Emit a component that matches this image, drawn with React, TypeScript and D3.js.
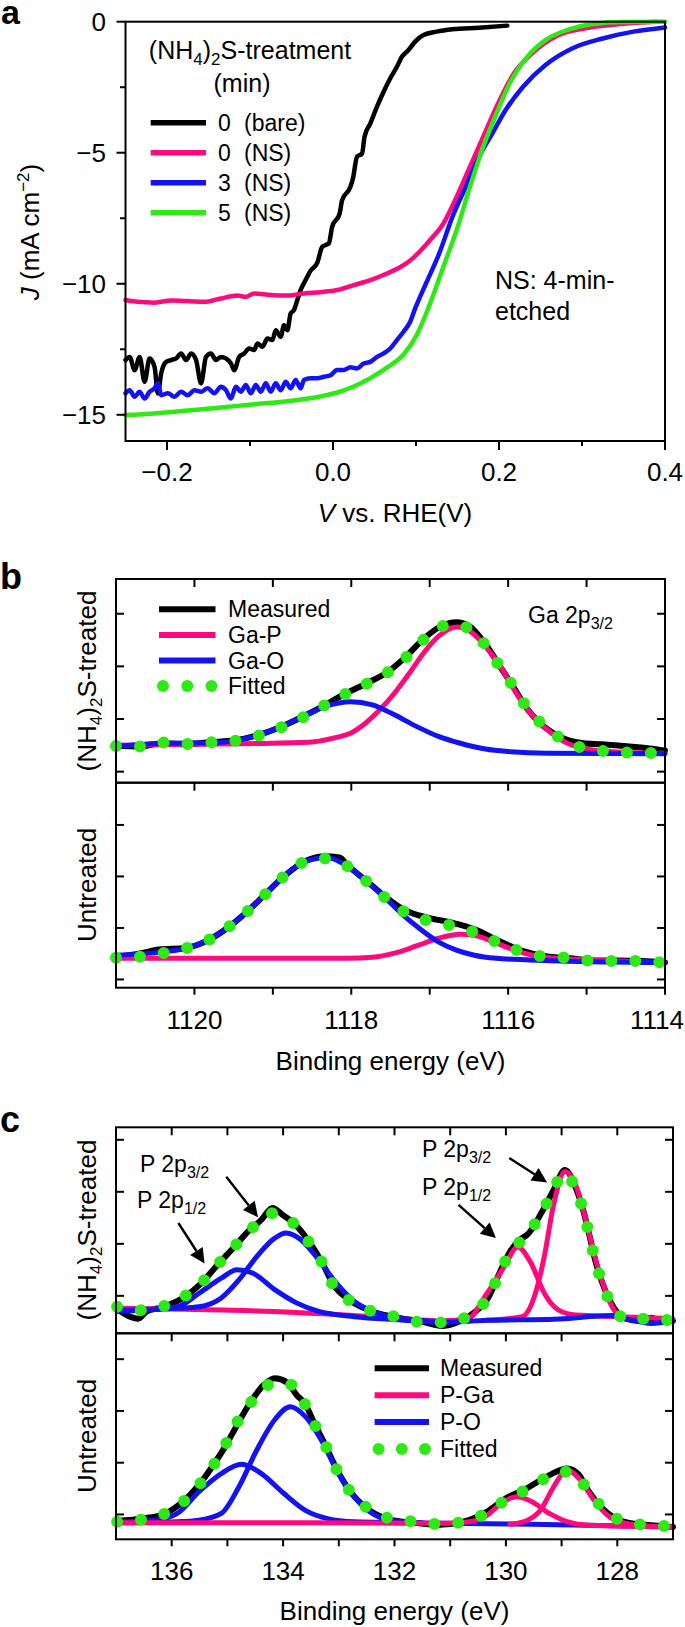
import React from 'react';
import * as d3 from 'd3';

const FONT = '"Liberation Sans", Arial, Helvetica, sans-serif';
const PINK = '#ff0a7c';
const BLUE = '#1212f2';
const GREEN = '#2eea14';

type P = [number, number];

// ---------- Panel a : J–V curves ----------
const aXTicks = [-0.2, 0, 0.2, 0.4];
const aXTickLabels = ['\u22120.2', '0.0', '0.2', '0.4'];
const aXMinor = [-0.1, 0.1, 0.3];
const aYTicks = [0, -5, -10, -15];
const aYTickLabels = ['0', '\u22125', '\u221210', '\u221215'];
const aYMinor = [-2.5, -7.5, -12.5];

const aBare: P[] = [
  [-0.25, -12.91], [-0.245, -12.79], [-0.239, -13.3], [-0.233, -12.79], [-0.227, -13.74], [-0.221, -12.85],
  [-0.215, -13.17], [-0.211, -14.19], [-0.207, -13.42], [-0.201, -12.98], [-0.195, -12.91], [-0.189, -12.85],
  [-0.183, -12.66], [-0.177, -12.91], [-0.171, -12.66], [-0.165, -12.91], [-0.159, -13.8], [-0.153, -12.79],
  [-0.147, -12.66], [-0.141, -12.91], [-0.135, -12.79], [-0.129, -12.85], [-0.123, -13.04], [-0.119, -13.3],
  [-0.113, -12.79], [-0.107, -12.66], [-0.101, -12.47], [-0.095, -12.53], [-0.091, -12.28], [-0.085, -12.4],
  [-0.079, -12.09], [-0.073, -12.15], [-0.069, -11.77], [-0.063, -12.02], [-0.059, -11.58], [-0.055, -11.77],
  [-0.051, -11.13], [-0.047, -11.0], [-0.043, -10.62], [-0.039, -10.24], [-0.033, -9.86], [-0.027, -9.5],
  [-0.019, -9.2], [-0.013, -8.59], [-0.005, -8.46], [-0.001, -7.82], [0.008, -7.32], [0.011, -6.81],
  [0.021, -6.3], [0.024, -5.98], [0.029, -5.15], [0.035, -5.03], [0.038, -4.39], [0.045, -3.88],
  [0.053, -3.24], [0.06, -2.74], [0.069, -2.16], [0.077, -1.72], [0.083, -1.34], [0.091, -1.08],
  [0.099, -0.76], [0.109, -0.51], [0.125, -0.38], [0.144, -0.29], [0.176, -0.23], [0.21, -0.15],
];
const aNS0: P[] = [
  [-0.25, -10.62], [-0.235, -10.69], [-0.215, -10.72], [-0.195, -10.64], [-0.175, -10.66], [-0.155, -10.69],
  [-0.135, -10.56], [-0.115, -10.45], [-0.105, -10.5], [-0.095, -10.37], [-0.075, -10.43], [-0.055, -10.45],
  [-0.035, -10.37], [-0.015, -10.32], [0.005, -10.24], [0.025, -10.05], [0.045, -9.86], [0.065, -9.61],
  [0.085, -9.29], [0.096, -9.03], [0.117, -8.33], [0.133, -7.7], [0.149, -6.68], [0.165, -5.53],
  [0.181, -4.39], [0.197, -3.24], [0.218, -1.97], [0.24, -1.21], [0.272, -0.51], [0.304, -0.25],
  [0.346, -0.09], [0.373, -0.03], [0.39, 0.0],
];
const aNS3: P[] = [
  [-0.25, -14.18], [-0.245, -14.06], [-0.239, -14.31], [-0.233, -14.12], [-0.227, -14.38], [-0.221, -14.12],
  [-0.215, -13.99], [-0.211, -13.8], [-0.207, -14.25], [-0.199, -14.18], [-0.191, -14.31], [-0.183, -14.12],
  [-0.175, -14.25], [-0.167, -14.06], [-0.159, -14.12], [-0.151, -13.99], [-0.143, -14.18], [-0.135, -13.93],
  [-0.129, -14.06], [-0.123, -14.38], [-0.117, -13.93], [-0.111, -14.12], [-0.105, -13.86], [-0.099, -14.18],
  [-0.093, -13.86], [-0.087, -14.12], [-0.081, -13.8], [-0.075, -14.12], [-0.069, -13.8], [-0.063, -14.06],
  [-0.057, -13.74], [-0.051, -13.99], [-0.045, -13.67], [-0.039, -13.99], [-0.035, -13.67], [-0.027, -13.61],
  [-0.019, -13.61], [-0.011, -13.55], [-0.003, -13.49], [0.005, -13.29], [0.013, -13.29], [0.021, -13.19],
  [0.029, -13.23], [0.037, -13.04], [0.045, -12.98], [0.053, -12.79], [0.061, -12.66], [0.069, -12.47],
  [0.077, -12.15], [0.085, -11.83], [0.093, -11.45], [0.099, -10.94], [0.105, -10.49], [0.112, -9.99],
  [0.128, -8.84], [0.144, -7.44], [0.16, -6.3], [0.176, -5.15], [0.192, -4.26], [0.208, -3.37],
  [0.229, -2.48], [0.256, -1.65], [0.288, -1.02], [0.325, -0.64], [0.362, -0.38], [0.4, -0.22],
];
const aNS5: P[] = [
  [-0.25, -15.01], [-0.215, -14.95], [-0.175, -14.84], [-0.135, -14.72], [-0.095, -14.6], [-0.055, -14.48],
  [-0.015, -14.3], [0.005, -14.15], [0.025, -13.92], [0.045, -13.6], [0.065, -13.2], [0.085, -12.7],
  [0.101, -11.95], [0.117, -10.75], [0.133, -9.35], [0.149, -7.95], [0.165, -6.3], [0.181, -4.77],
  [0.197, -3.5], [0.213, -2.35], [0.234, -1.34], [0.256, -0.7], [0.282, -0.32], [0.314, -0.09],
  [0.346, -0.01], [0.4, 0.0],
];
const aLegendLabels = [['0', '(bare)'], ['0', '(NS)'], ['3', '(NS)'], ['5', '(NS)']];

// ---------- Panel b : Ga 2p3/2 ----------
const bXTicks = [1120, 1118, 1116, 1114];
const bXMinor = [1119, 1117, 1115];
const yTicksXps = [0, 1, 2, 3];

const bTreatedMeasured: P[] = [
  [1121.0, 0.49], [1120.7, 0.48], [1120.4, 0.54], [1120.1, 0.52], [1119.8, 0.56], [1119.5, 0.59],
  [1119.2, 0.69], [1118.9, 0.85], [1118.6, 1.06], [1118.33, 1.27], [1118.08, 1.48], [1117.8, 1.68],
  [1117.52, 1.91], [1117.3, 2.19], [1117.08, 2.52], [1116.85, 2.77], [1116.66, 2.84], [1116.5, 2.77],
  [1116.27, 2.38], [1116.1, 1.99], [1115.93, 1.6], [1115.77, 1.22], [1115.6, 0.93], [1115.35, 0.67],
  [1115.04, 0.54], [1114.8, 0.52], [1114.57, 0.49], [1114.2, 0.44], [1114.0, 0.4],
];
const bTreatedGaP: P[] = [
  [1121.0, 0.5], [1120.0, 0.52], [1119.0, 0.54], [1118.47, 0.57], [1118.19, 0.65], [1118.01, 0.73],
  [1117.82, 0.92], [1117.64, 1.17], [1117.45, 1.49], [1117.26, 1.87], [1117.08, 2.25], [1116.89, 2.57],
  [1116.66, 2.75], [1116.48, 2.66], [1116.29, 2.38], [1116.1, 2.0], [1115.92, 1.55], [1115.73, 1.14],
  [1115.55, 0.86], [1115.32, 0.6], [1115.04, 0.44], [1114.67, 0.38], [1114.0, 0.35],
];
const bTreatedGaO: P[] = [
  [1121.0, 0.48], [1120.37, 0.54], [1119.77, 0.55], [1119.21, 0.68], [1118.89, 0.86], [1118.61, 1.05],
  [1118.33, 1.24], [1118.01, 1.33], [1117.73, 1.27], [1117.45, 1.08], [1117.17, 0.86], [1116.89, 0.67],
  [1116.61, 0.54], [1116.29, 0.43], [1115.97, 0.38], [1115.5, 0.35], [1114.0, 0.34],
];
const bTreatedFit: P[] = [
  [1121.0, 0.488], [1120.71, 0.476], [1120.4, 0.552], [1120.1, 0.526], [1119.78, 0.558], [1119.47, 0.59],
  [1119.18, 0.685], [1118.89, 0.843], [1118.6, 1.046], [1118.33, 1.268], [1118.08, 1.471], [1117.79, 1.68],
  [1117.52, 1.902], [1117.3, 2.175], [1117.08, 2.505], [1116.76, 2.79], [1116.5, 2.727], [1116.27, 2.359],
  [1116.1, 1.978], [1115.93, 1.604], [1115.77, 1.236], [1115.57, 0.907], [1115.31, 0.615], [1115.0, 0.431],
  [1114.69, 0.38], [1114.38, 0.361], [1114.0, 0.348],
];
const bUntrMeasured: P[] = [
  [1121.0, 0.44], [1120.71, 0.5], [1120.45, 0.58], [1120.12, 0.61], [1119.83, 0.76], [1119.58, 1.0],
  [1119.34, 1.3], [1119.12, 1.62], [1118.89, 1.96], [1118.62, 2.27], [1118.35, 2.39], [1118.15, 2.37],
  [1118.05, 2.22], [1117.81, 1.92], [1117.57, 1.61], [1117.31, 1.34], [1117.0, 1.19], [1116.71, 1.1],
  [1116.42, 0.97], [1116.12, 0.75], [1115.83, 0.56], [1115.52, 0.45], [1115.21, 0.41], [1114.91, 0.37],
  [1114.6, 0.37], [1114.29, 0.36], [1114.0, 0.33],
];
const bUntrGaO: P[] = [
  [1121.0, 0.47], [1120.37, 0.54], [1120.12, 0.6], [1119.83, 0.76], [1119.58, 1.0], [1119.34, 1.3],
  [1119.12, 1.62], [1118.89, 1.96], [1118.62, 2.27], [1118.31, 2.37], [1118.05, 2.2], [1117.81, 1.91],
  [1117.57, 1.59], [1117.36, 1.28], [1117.13, 0.99], [1116.89, 0.73], [1116.66, 0.57], [1116.43, 0.47],
  [1116.15, 0.41], [1115.73, 0.38], [1115.36, 0.36], [1114.0, 0.33],
];
const bUntrGaP: P[] = [
  [1121.0, 0.41], [1118.05, 0.41], [1117.73, 0.43], [1117.45, 0.51], [1117.17, 0.65], [1116.89, 0.8],
  [1116.61, 0.88], [1116.43, 0.86], [1116.24, 0.76], [1115.97, 0.6], [1115.69, 0.47], [1115.36, 0.41],
  [1115.04, 0.38], [1114.57, 0.36], [1114.0, 0.32],
];
const bUntrFit: P[] = [
  [1121.0, 0.42], [1120.71, 0.44], [1120.41, 0.51], [1120.12, 0.6], [1119.83, 0.76], [1119.58, 1.0],
  [1119.34, 1.3], [1119.12, 1.62], [1118.89, 1.96], [1118.62, 2.27], [1118.31, 2.35], [1118.05, 2.2],
  [1117.81, 1.91], [1117.57, 1.59], [1117.31, 1.3], [1117.0, 1.13], [1116.71, 1.04], [1116.42, 0.91],
  [1116.12, 0.71], [1115.83, 0.54], [1115.52, 0.44], [1115.21, 0.42], [1114.91, 0.36], [1114.6, 0.36],
  [1114.29, 0.36], [1114.0, 0.32],
];

// ---------- Panel c : P 2p ----------
const cXTicks = [136, 134, 132, 130, 128];
const cXMinor = [135, 133, 131, 129];

const cTreatedMeasured: P[] = [
  [137.0, -0.24], [136.75, -0.4], [136.6, -0.44], [136.45, -0.3], [136.18, -0.22], [135.8, -0.04],
  [135.47, 0.24], [135.19, 0.58], [134.87, 0.95], [134.59, 1.28], [134.4, 1.45], [134.19, 1.69],
  [134.0, 1.55], [133.83, 1.42], [133.52, 1.02], [133.29, 0.62], [133.1, 0.22], [132.78, -0.1],
  [132.34, -0.32], [131.94, -0.42], [131.49, -0.5], [131.15, -0.58], [130.9, -0.52], [130.65, -0.38],
  [130.31, -0.02], [130.11, 0.45], [129.92, 0.86], [129.75, 1.08], [129.61, 1.18], [129.36, 1.6],
  [129.15, 2.02], [128.94, 2.42], [128.74, 2.06], [128.6, 1.6], [128.5, 1.16], [128.4, 0.7],
  [128.28, 0.28], [128.12, -0.12], [127.85, -0.44], [127.6, -0.48], [127.39, -0.42], [127.2, -0.5],
  [127.0, -0.48],
];
const cTreatedPO1: P[] = [
  [136.98, -0.3], [135.9, -0.21], [135.51, 0.05], [135.11, 0.34], [134.83, 0.5], [134.55, 0.44],
  [134.15, 0.12], [133.75, -0.14], [133.36, -0.3], [132.72, -0.4], [131.92, -0.46], [131.13, -0.51],
  [130.33, -0.47], [129.14, -0.45], [128.1, -0.38], [127.78, -0.46], [127.39, -0.53], [127.0, -0.49],
];
const cTreatedPO2: P[] = [
  [136.98, -0.28], [135.9, -0.24], [135.51, -0.21], [135.11, -0.04], [134.79, 0.31], [134.47, 0.76],
  [134.15, 1.11], [133.95, 1.21], [133.68, 1.08], [133.36, 0.69], [133.04, 0.24], [132.72, -0.11],
  [132.32, -0.33], [131.92, -0.43], [131.13, -0.5],
];
const cTreatedPGa1: P[] = [
  [137.0, -0.24], [135.77, -0.26], [134.47, -0.29], [133.18, -0.35], [132.53, -0.39], [131.9, -0.44],
  [131.15, -0.48], [130.67, -0.43], [130.35, 0.03], [130.03, 0.56], [129.79, 0.94], [129.55, 0.63],
  [129.31, 0.05], [129.06, -0.27], [128.75, -0.37], [127.95, -0.4], [127.0, -0.44],
];
const cTreatedPGa2: P[] = [
  [130.35, -0.47], [129.71, -0.4], [129.47, 0.05], [129.31, 0.76], [129.15, 1.72], [128.94, 2.39],
  [128.74, 2.1], [128.58, 1.53], [128.42, 0.82], [128.26, 0.24], [128.06, -0.27], [127.86, -0.43],
  [127.55, -0.46],
];
const cTreatedFit: P[] = [
  [136.98, -0.21], [136.61, -0.28], [136.18, -0.21], [135.8, -0.03], [135.47, 0.24], [135.19, 0.58],
  [134.87, 0.95], [134.59, 1.27], [134.18, 1.59], [133.83, 1.41], [133.52, 1.01], [133.29, 0.62],
  [133.1, 0.2], [132.78, -0.11], [132.34, -0.32], [131.94, -0.41], [131.49, -0.51], [131.05, -0.51],
  [130.65, -0.37], [130.31, -0.01], [130.11, 0.44], [129.92, 0.85], [129.61, 1.17], [129.36, 1.6],
  [129.15, 2.01], [128.98, 2.36], [128.74, 2.04], [128.6, 1.59], [128.5, 1.15], [128.4, 0.69],
  [128.28, 0.28], [128.12, -0.14], [127.8, -0.46], [127.39, -0.43], [127.03, -0.48],
];
const cUntrMeasured: P[] = [
  [137.0, -0.12], [136.7, -0.1], [136.4, -0.06], [136.18, -0.01], [135.84, 0.21], [135.51, 0.57],
  [135.25, 0.96], [135.03, 1.33], [134.83, 1.72], [134.59, 2.16], [134.35, 2.5], [134.15, 2.63],
  [133.93, 2.55], [133.75, 2.3], [133.62, 2.16], [133.42, 1.72], [133.23, 1.31], [133.04, 0.88],
  [132.82, 0.48], [132.52, 0.14], [132.08, -0.1], [131.64, -0.16], [131.19, -0.2], [130.76, -0.14],
  [130.36, 0.04], [130.0, 0.31], [129.6, 0.52], [129.22, 0.76], [128.9, 0.89], [128.7, 0.78],
  [128.52, 0.46], [128.26, 0.11], [127.85, -0.15], [127.4, -0.21], [127.0, -0.24],
];
const cUntrPO1: P[] = [
  [136.98, -0.14], [136.3, -0.11], [135.9, 0.02], [135.51, 0.44], [135.11, 0.79], [134.75, 0.97],
  [134.39, 0.79], [133.99, 0.41], [133.6, 0.08], [133.2, -0.08], [132.72, -0.14], [131.13, -0.17],
  [129.54, -0.19], [127.03, -0.24],
];
const cUntrPO2: P[] = [
  [136.98, -0.16], [135.9, -0.14], [135.51, -0.11], [135.11, 0.02], [134.79, 0.54], [134.47, 1.25],
  [134.15, 1.83], [133.87, 2.08], [133.6, 1.89], [133.28, 1.37], [133.04, 0.86], [132.72, 0.34],
  [132.4, 0.02], [132.08, -0.11], [131.53, -0.16],
];
const cUntrPGa1: P[] = [
  [136.98, -0.16], [133.52, -0.16], [131.13, -0.17], [130.65, -0.14], [130.33, -0.01], [130.09, 0.21],
  [129.81, 0.34], [129.54, 0.25], [129.22, 0.02], [128.9, -0.14], [128.5, -0.21], [127.03, -0.24],
];
const cUntrPGa2: P[] = [
  [129.93, -0.19], [129.61, -0.11], [129.38, 0.08], [129.14, 0.54], [128.9, 0.86], [128.66, 0.66],
  [128.42, 0.28], [128.18, -0.01], [127.86, -0.17], [127.39, -0.23], [127.03, -0.24],
];
const cUntrFit: P[] = [
  [136.98, -0.14], [136.61, -0.11], [136.18, -0.01], [135.84, 0.2], [135.51, 0.57], [135.25, 0.95],
  [135.03, 1.36], [134.83, 1.77], [134.59, 2.15], [134.27, 2.5], [133.93, 2.54], [133.62, 2.15],
  [133.42, 1.71], [133.23, 1.31], [133.04, 0.87], [132.82, 0.48], [132.52, 0.15], [132.08, -0.08],
  [131.64, -0.14], [131.19, -0.19], [130.76, -0.14], [130.36, 0.02], [130.0, 0.28], [129.6, 0.5],
  [129.22, 0.74], [128.83, 0.83], [128.52, 0.46], [128.26, 0.12], [127.85, -0.15], [127.4, -0.21],
  [127.03, -0.23],
];
// arrows in panel c (treated), [tailE, tailI, tipE, tipI]
const cArrows = [
  [135.02, 2.29, 134.45, 1.51],
  [135.88, 1.4, 135.41, 0.62],
  [129.94, 2.65, 129.26, 2.18],
  [130.85, 1.75, 130.18, 1.11],
];

type Scale = d3.ScaleLinear<number, number>;

function Curve({ data, x, y, color, width, dotted }: { data: P[]; x: Scale; y: Scale; color: string; width: number; dotted?: boolean }) {
  const gen = d3.line<P>().x((d) => x(d[0])).y((d) => y(d[1])).curve(d3.curveMonotoneX);
  return (
    <path
      d={gen(data) || ''}
      fill="none"
      stroke={color}
      strokeWidth={width}
      strokeLinejoin="round"
      strokeLinecap="round"
      strokeDasharray={dotted ? '0 24' : undefined}
    />
  );
}

function Arrow({ x1, y1, x2, y2 }: { x1: number; y1: number; x2: number; y2: number }) {
  const a = Math.atan2(y2 - y1, x2 - x1);
  const L = 15, W = 7.5;
  const bx = x2 - L * Math.cos(a), by = y2 - L * Math.sin(a);
  const p = [
    [x2, y2],
    [bx + W * Math.sin(a), by - W * Math.cos(a)],
    [bx - W * Math.sin(a), by + W * Math.cos(a)],
  ];
  return (
    <g>
      <line x1={x1} y1={y1} x2={bx} y2={by} stroke="#000" strokeWidth={2.4} />
      <polygon points={p.map((q) => q.join(',')).join(' ')} fill="#000" />
    </g>
  );
}

function XpsFrame({ x, y, top, bottom, left, right, ticks, minor, isUpper }: any) {
  const all = [...ticks, ...minor];
  return (
    <g>
      <rect x={left} y={top} width={right - left} height={bottom - top} fill="none" stroke="#000" strokeWidth={2} />
      {yTicksXps.map((t) => (
        <g key={'y' + t}>
          <line x1={left} x2={left + 8} y1={y(t)} y2={y(t)} stroke="#000" strokeWidth={2} />
          <line x1={right} x2={right - 8} y1={y(t)} y2={y(t)} stroke="#000" strokeWidth={2} />
        </g>
      ))}
      {all.map((t: number) => (
        <line key={'t' + t} x1={x(t)} x2={x(t)} y1={top} y2={top + 8} stroke="#000" strokeWidth={2} />
      ))}
      {!isUpper &&
        all.map((t: number) => (
          <line key={'b' + t} x1={x(t)} x2={x(t)} y1={bottom} y2={bottom + 7} stroke="#000" strokeWidth={2} />
        ))}
    </g>
  );
}

function RotLabel({ cx, cy, treated }: { cx: number; cy: number; treated: boolean }) {
  return (
    <text transform={`translate(${cx},${cy}) rotate(-90)`} textAnchor="middle" fontSize={26} fontFamily={FONT}>
      {treated ? (
        <>
          (NH<tspan dy={6} fontSize={17}>4</tspan>
          <tspan dy={-6}>)</tspan>
          <tspan dy={6} fontSize={17}>2</tspan>
          <tspan dy={-6}>S-treated</tspan>
        </>
      ) : (
        'Untreated'
      )}
    </text>
  );
}

export default function App() {
  // Panel a scales
  const ax = d3.scaleLinear().domain([-0.25, 0.4]).range([125.5, 665]);
  const ay = d3.scaleLinear().domain([-16, 0]).range([441, 21.7]);

  // Panel b scales
  const bx = d3.scaleLinear().domain([1121, 1114]).range([116, 665]);
  const byU = d3.scaleLinear().domain([-0.21, 3.66]).range([782.7, 579]);
  const byL = d3.scaleLinear().domain([-0.16, 3.82]).range([987.7, 782.7]);

  // Panel c scales
  const cx = d3.scaleLinear().domain([137, 127]).range([116, 673]);
  const cyU = d3.scaleLinear().domain([-0.72, 3.24]).range([1333.3, 1127.3]);
  const cyL = d3.scaleLinear().domain([-0.48, 3.5]).range([1539.3, 1333.3]);

  const aSeries: [P[], string][] = [
    [aBare, '#000'],
    [aNS0, PINK],
    [aNS3, BLUE],
    [aNS5, GREEN],
  ];

  const bLegend = [['Measured', '#000'], ['Ga-P', PINK], ['Ga-O', BLUE], ['Fitted', GREEN]];
  const cLegend = [['Measured', '#000'], ['P-Ga', PINK], ['P-O', BLUE], ['Fitted', GREEN]];

  const legendBlock = (items: string[][], lx0: number, lx1: number, ly0: number, step: number, tx: number) =>
    items.map(([label, color], i) => {
      const yy = ly0 + i * step;
      return (
        <g key={label}>
          {label === 'Fitted' ? (
            [0, 1, 2].map((k) => (
              <circle key={k} cx={lx0 + 4 + k * ((lx1 - lx0 - 8) / 2)} cy={yy} r={6} fill={GREEN} />
            ))
          ) : (
            <line x1={lx0} x2={lx1} y1={yy} y2={yy} stroke={color} strokeWidth={6} />
          )}
          <text x={tx} y={yy + 8} fontSize={23} fontFamily={FONT}>
            {label}
          </text>
        </g>
      );
    });

  const sub32 = (
    <>
      2p<tspan dy={6} fontSize={16}>3/2</tspan>
    </>
  );
  const sub12 = (
    <>
      2p<tspan dy={6} fontSize={16}>1/2</tspan>
    </>
  );

  return (
    <svg
      width={685}
      height={1627}
      viewBox="0 0 685 1627"
      style={{ position: 'absolute', left: 0, top: 0, background: '#fff' }}
      fontFamily={FONT}
    >
      <rect x={0} y={0} width={685} height={1627} fill="#fff" />

      {/* ---------------- Panel a ---------------- */}
      <text x={1} y={24} fontSize={34} fontWeight="bold" fontFamily={FONT}>a</text>
      {aSeries.map(([d, c], i) => (
        <Curve key={i} data={d} x={ax} y={ay} color={c} width={4.5} />
      ))}
      <rect x={125.5} y={21.7} width={665 - 125.5} height={441 - 21.7} fill="none" stroke="#000" strokeWidth={2} />
      {aXTicks.map((t, i) => (
        <g key={'ax' + t}>
          <line x1={ax(t)} x2={ax(t)} y1={441} y2={450} stroke="#000" strokeWidth={2} />
          <text x={ax(t)} y={481} textAnchor="middle" fontSize={26}>{aXTickLabels[i]}</text>
        </g>
      ))}
      {aXMinor.map((t) => (
        <line key={'axm' + t} x1={ax(t)} x2={ax(t)} y1={441} y2={446} stroke="#000" strokeWidth={2} />
      ))}
      {aYTicks.map((t, i) => (
        <g key={'ay' + t}>
          <line x1={125.5} x2={116.5} y1={ay(t)} y2={ay(t)} stroke="#000" strokeWidth={2} />
          <text x={106} y={ay(t) + 9} textAnchor="end" fontSize={26}>{aYTickLabels[i]}</text>
        </g>
      ))}
      {aYMinor.map((t) => (
        <line key={'aym' + t} x1={125.5} x2={120} y1={ay(t)} y2={ay(t)} stroke="#000" strokeWidth={2} />
      ))}
      <text x={395} y={522} textAnchor="middle" fontSize={26}>
        <tspan fontStyle="italic">V</tspan> vs. RHE(V)
      </text>
      <text transform="translate(39,232) rotate(-90)" textAnchor="middle" fontSize={26}>
        <tspan fontStyle="italic">J</tspan> (mA cm<tspan dy={-10} fontSize={17}>{'\u22122'}</tspan>
        <tspan dy={10}>)</tspan>
      </text>
      {/* legend a */}
      <text x={250} y={59} textAnchor="middle" fontSize={25}>
        (NH<tspan dy={6} fontSize={17}>4</tspan>
        <tspan dy={-6}>)</tspan>
        <tspan dy={6} fontSize={17}>2</tspan>
        <tspan dy={-6}>S-treatment</tspan>
      </text>
      <text x={242} y={92} textAnchor="middle" fontSize={25}>(min)</text>
      {aSeries.map(([, c], i) => {
        const yy = 122.7 + i * 30;
        return (
          <g key={'al' + i}>
            <line x1={150.7} x2={206} y1={yy} y2={yy} stroke={c} strokeWidth={5.5} />
            <text x={218} y={yy + 8.5} fontSize={23}>{aLegendLabels[i][0]}</text>
            <text x={244} y={yy + 8.5} fontSize={23}>{aLegendLabels[i][1]}</text>
          </g>
        );
      })}
      <text x={495} y={289} fontSize={25}>NS: 4-min-</text>
      <text x={495} y={320} fontSize={25}>etched</text>

      {/* ---------------- Panel b ---------------- */}
      <text x={0} y={589} fontSize={36} fontWeight="bold" fontFamily={FONT}>b</text>
      <Curve data={bTreatedMeasured} x={bx} y={byU} color="#000" width={6} />
      <Curve data={bTreatedGaP} x={bx} y={byU} color={PINK} width={5} />
      <Curve data={bTreatedGaO} x={bx} y={byU} color={BLUE} width={5} />
      <Curve data={bTreatedFit} x={bx} y={byU} color={GREEN} width={12} dotted />
      <Curve data={bUntrMeasured} x={bx} y={byL} color="#000" width={6} />
      <Curve data={bUntrGaP} x={bx} y={byL} color={PINK} width={5} />
      <Curve data={bUntrGaO} x={bx} y={byL} color={BLUE} width={5} />
      <Curve data={bUntrFit} x={bx} y={byL} color={GREEN} width={12} dotted />
      <XpsFrame x={bx} y={byU} top={579} bottom={782.7} left={116} right={665} ticks={bXTicks} minor={bXMinor} isUpper />
      <XpsFrame x={bx} y={byL} top={782.7} bottom={987.7} left={116} right={665} ticks={bXTicks} minor={bXMinor} isUpper={false} />
      {bXTicks.map((t, i) => (
        <text
          key={'bl' + t}
          x={i === bXTicks.length - 1 ? 684 : bx(t)}
          y={1029}
          textAnchor={i === bXTicks.length - 1 ? 'end' : 'middle'}
          fontSize={26}
        >
          {t}
        </text>
      ))}
      <text x={390.5} y={1070} textAnchor="middle" fontSize={26}>Binding energy (eV)</text>
      <RotLabel cx={96} cy={681} treated />
      <RotLabel cx={96} cy={885} treated={false} />
      {legendBlock(bLegend, 159, 215.5, 609.3, 25.6, 228)}
      <text x={528} y={623} fontSize={23}>Ga {sub32}</text>

      {/* ---------------- Panel c ---------------- */}
      <text x={0} y={1132} fontSize={36} fontWeight="bold" fontFamily={FONT}>c</text>
      <Curve data={cTreatedMeasured} x={cx} y={cyU} color="#000" width={6} />
      <Curve data={cTreatedPGa1} x={cx} y={cyU} color={PINK} width={5} />
      <Curve data={cTreatedPGa2} x={cx} y={cyU} color={PINK} width={5} />
      <Curve data={cTreatedPO1} x={cx} y={cyU} color={BLUE} width={5} />
      <Curve data={cTreatedPO2} x={cx} y={cyU} color={BLUE} width={5} />
      <Curve data={cTreatedFit} x={cx} y={cyU} color={GREEN} width={12} dotted />
      <Curve data={cUntrMeasured} x={cx} y={cyL} color="#000" width={6} />
      <Curve data={cUntrPO1} x={cx} y={cyL} color={BLUE} width={5} />
      <Curve data={cUntrPO2} x={cx} y={cyL} color={BLUE} width={5} />
      <Curve data={cUntrPGa1} x={cx} y={cyL} color={PINK} width={5} />
      <Curve data={cUntrPGa2} x={cx} y={cyL} color={PINK} width={5} />
      <Curve data={cUntrFit} x={cx} y={cyL} color={GREEN} width={12} dotted />
      <XpsFrame x={cx} y={cyU} top={1127.3} bottom={1333.3} left={116} right={673} ticks={cXTicks} minor={cXMinor} isUpper />
      <XpsFrame x={cx} y={cyL} top={1333.3} bottom={1539.3} left={116} right={673} ticks={cXTicks} minor={cXMinor} isUpper={false} />
      {cXTicks.map((t) => (
        <text key={'cl' + t} x={cx(t)} y={1580} textAnchor="middle" fontSize={26}>{t}</text>
      ))}
      <text x={394.5} y={1620} textAnchor="middle" fontSize={26}>Binding energy (eV)</text>
      <RotLabel cx={96} cy={1230} treated />
      <RotLabel cx={96} cy={1436} treated={false} />
      {legendBlock(cLegend, 374.6, 429, 1368.3, 26.9, 440)}
      {cArrows.map((a, i) => (
        <Arrow key={'arr' + i} x1={cx(a[0])} y1={cyU(a[1])} x2={cx(a[2])} y2={cyU(a[3])} />
      ))}
      <text x={140} y={1172} fontSize={23}>P {sub32}</text>
      <text x={137} y={1208} fontSize={23}>P {sub12}</text>
      <text x={422} y={1157} fontSize={23}>P {sub32}</text>
      <text x={422} y={1195} fontSize={23}>P {sub12}</text>
    </svg>
  );
}
